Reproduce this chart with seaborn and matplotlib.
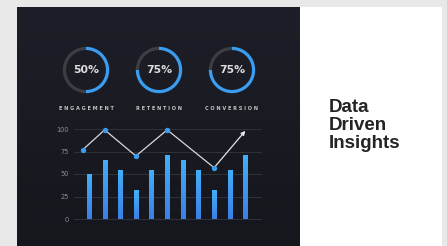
import numpy as np
import pandas as pd
import matplotlib
matplotlib.use('Agg')
import matplotlib.pyplot as plt
import seaborn as sns

# data
kpi_names = ['ENGAGEMENT', 'RETENTION', 'CONVERSION']
kpi_values = [50, 75, 75]

bar_pos = list(range(11))
bar_values = [50, 66, 55, 32, 55, 71, 66, 55, 32, 55, 71]

line_x = [-0.4, 1, 3, 5, 8, 10]
line_y = [77, 99, 70, 99, 57, 98]

y_ticks = [0, 25, 50, 75, 100]

# colours
BG = '#e8e8e8'
BLUE = '#3a9df0'
RING_GRAY = '#3d3e44'
GRID = '#34363e'
TICK = '#8c8e96'

sns.set_theme(style='dark')
plt.rcParams['font.family'] = ['DejaVu Sans']

W, H = 447, 246
fig = plt.figure(figsize=(W / 100, H / 100), dpi=100, facecolor=BG)


def px_axes(x0, y0, x1, y1):
    # pixel box (top-left origin) -> figure axes
    return fig.add_axes([x0 / W, 1 - y1 / H, (x1 - x0) / W, (y1 - y0) / H])


# --- panels ---
bg_ax = px_axes(17, 7, 300, 246)
grad = np.linspace(0, 1, 256).reshape(-1, 1)
dark_cmap = matplotlib.colors.LinearSegmentedColormap.from_list('panel', ['#1d1e27', '#16171d'])
bg_ax.imshow(grad, aspect='auto', cmap=dark_cmap, extent=[0, 1, 0, 1])
bg_ax.set_axis_off()

white_ax = px_axes(300, 7, 442, 246)
white_ax.set_facecolor('white')
white_ax.set_xticks([])
white_ax.set_yticks([])
for s in white_ax.spines.values():
    s.set_visible(False)
white_ax.text(0.2, 0.615, 'Data\nDriven\nInsights', transform=white_ax.transAxes,
              ha='left', va='top', fontsize=13.5, fontweight='bold', color='#242424',
              family=['Liberation Sans', 'DejaVu Sans'], linespacing=1.06)

# --- donuts ---
centers = [86, 159, 232]
r = 29
for cx, name, val in zip(centers, kpi_names, kpi_values):
    ax = px_axes(cx - r, 70 - r, cx + r, 70 + r)
    ax.pie([val, 100 - val], colors=[BLUE, RING_GRAY], startangle=90, counterclock=False,
           radius=1.0, wedgeprops=dict(width=0.14, edgecolor='none'))
    ax.set_aspect('equal')
    ax.text(0, 0, f'{val}%', ha='center', va='center', fontsize=7.8,
            fontweight='bold', color='#dcdcdc')
    fig.text(cx / W, 1 - 109 / H, ' '.join(name), ha='center', va='center',
             fontsize=3.6, color='#c4c4c4', fontweight='bold')

# --- bars + line ---
ax = px_axes(74, 129, 261, 219)
ax.set_facecolor('none')
df = pd.DataFrame({'pos': bar_pos, 'value': bar_values})
sns.barplot(data=df, x='pos', y='value', ax=ax, width=0.27, color=BLUE,
            saturation=1, linewidth=0)

bar_cmap = matplotlib.colors.LinearSegmentedColormap.from_list('bar', ['#3b7fe6', '#42b0f8'])
for patch in ax.patches:
    x0, y0 = patch.get_x(), patch.get_y()
    w, h = patch.get_width(), patch.get_height()
    im = ax.imshow(grad, aspect='auto', cmap=bar_cmap, origin='lower',
                   extent=[x0, x0 + w, y0, y0 + h], zorder=2)
    im.set_clip_path(patch)

ax.plot(line_x[:-1], line_y[:-1], color='#d9d9d9', lw=0.9, zorder=3, clip_on=False)
ax.annotate('', xy=(line_x[-1], line_y[-1]), xytext=(line_x[-2], line_y[-2]),
            arrowprops=dict(arrowstyle='-|>', color='#e6e6e6', lw=0.9,
                            mutation_scale=6, shrinkA=0, shrinkB=0), zorder=3,
            annotation_clip=False)
ax.scatter(line_x[:-1], line_y[:-1], s=15, color=BLUE, zorder=4, clip_on=False,
           linewidths=0)

ax.set_xlim(-0.96, 11.0)
ax.set_ylim(0, 100)
ax.set_yticks(y_ticks)
ax.set_yticklabels([str(t) for t in y_ticks])
ax.set_xticks([])
ax.set_xlabel('')
ax.set_ylabel('')
ax.grid(False)
for t in y_ticks:
    ax.axhline(t, color=GRID, lw=0.6, zorder=0, clip_on=False)
ax.tick_params(axis='y', length=0, pad=3.5, labelsize=4.8, labelcolor=TICK)
for s in ax.spines.values():
    s.set_visible(False)

fig.savefig('out.png', dpi=100, facecolor=BG)
